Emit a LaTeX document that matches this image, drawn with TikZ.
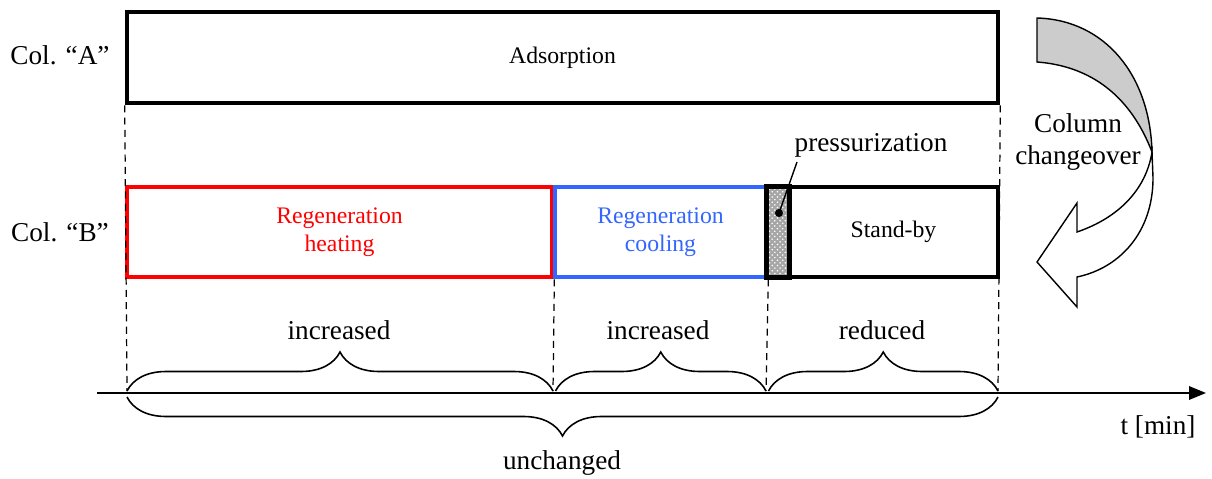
\documentclass[tikz,border=0pt]{standalone}
\usepackage{fontspec}
\setmainfont{Liberation Serif}
\usepackage{tikz}
\usetikzlibrary{arrows.meta, decorations.pathreplacing, patterns}
\usetikzlibrary{positioning}
\definecolor{bleu}{RGB}{51,102,255}
\tikzstyle{boite} = [draw,line width=2.7pt,inner sep=0pt,minimum height=1.8cm,align=center,font=\fontsize{13.5}{16}\selectfont]
\tikzstyle{etiq} = [inner sep=0pt,align=center,font=\fontsize{15.5}{18.5}\selectfont]
\tikzstyle{pointille} = [line width=0.7pt,dash pattern=on 4pt off 3pt]
\tikzstyle{accolade} = [decorate,decoration={brace,amplitude=0.78cm},line width=0.9pt]
\tikzstyle{fleche} = [-{Triangle[length=0.34cm,width=0.27cm]},line width=0.9pt]

\begin{document}
\begin{tikzpicture}[x=0.02cm,y=-0.02cm]
	\useasboundingbox (0,0) rectangle (1212,479);

%% Colonne A
	\node[boite,minimum width=17.42cm,minimum height=1.82cm] (ads) at (562.5,57.5) {Adsorption};
	\node[etiq] (colA) at (60,55) {Col. “A”};

%% Colonne B
	\node[boite,draw=red,text=red,minimum width=8.5cm] (chauf) at (339.5,232) {Regeneration\\heating};
	\node[boite,draw=bleu,text=bleu,minimum width=4.22cm] (refr) at (660.5,232) {Regeneration\\cooling};
	\node[inner sep=0pt,minimum width=0.44cm,minimum height=1.8cm] (press) at (778,232) {};
	\fill[gray!70] (press.north west) rectangle (press.south east);
	\fill[pattern=crosshatch dots,pattern color=white] (press.north west) rectangle (press.south east);
	\draw[line width=2.7pt] (press.north west) rectangle (press.south east);
	\node[boite,minimum width=4.18cm] (attente) at (893.5,232) {Stand-by};
	\node[etiq] (colB) at (60,232) {Col. “B”};

%% pressurization
	\node[etiq] (plbl) at (871,145) {pressurization};
	\coordinate (pdot) at (779,213);
	\fill (pdot) circle (2.3pt);
	\draw[line width=0.8pt] (797,162) -- (pdot);

%% axe du temps
	\coordinate (tdeb) at (97,393);
	\coordinate (tfin) at (1206,393);
	\draw[fleche] (tdeb) -- (tfin);
	\node[etiq] (tlbl) at (1158,427) {t [min]};

	\coordinate (a0) at (127,391);
	\coordinate (a1) at (553,391);
	\coordinate (a2) at (766,391);
	\coordinate (a3) at (998,391);
	\coordinate (b0) at (127,397);
	\coordinate (b3) at (998,397);

%% lignes pointillees
	\draw[pointille] (ads.south west) -- (a0);
	\draw[pointille] (ads.south east) -- (a3);
	\draw[pointille] (chauf.south east) -- (a1);
	\draw[pointille] (refr.south east) -- (a2);

%% accolades
	\draw[accolade] (a0) -- (a1);
	\draw[accolade] ([xshift=0.05cm]a1) -- (a2);
	\draw[accolade] ([xshift=0.05cm]a2) -- (a3);
	\draw[accolade] (b3) -- (b0);

	\node[etiq] (inc1) at (339,330) {increased};
	\node[etiq] (inc2) at (658,330) {increased};
	\node[etiq] (red) at (882,330) {reduced};
	\node[etiq] (unch) at (562,463) {unchanged};

%% fleche courbe
	\filldraw[fill=gray!40,line width=0.8pt] (1037,18) .. controls (1105,20) and (1150,75) .. (1152,152)
		.. controls (1130,95) and (1090,66) .. (1037,62) -- cycle;
	\filldraw[fill=white,line width=0.8pt] (1152,152) -- (1153,178) .. controls (1153,232) and (1120,268) .. (1077,277)
		-- (1077,307) -- (1037,262) -- (1077,203) -- (1077,232)
		.. controls (1118,218) and (1146,190) .. (1152,152) -- cycle;
	\node[etiq] (chg) at (1078,142) {Column\\changeover};

\end{tikzpicture}
\end{document}
